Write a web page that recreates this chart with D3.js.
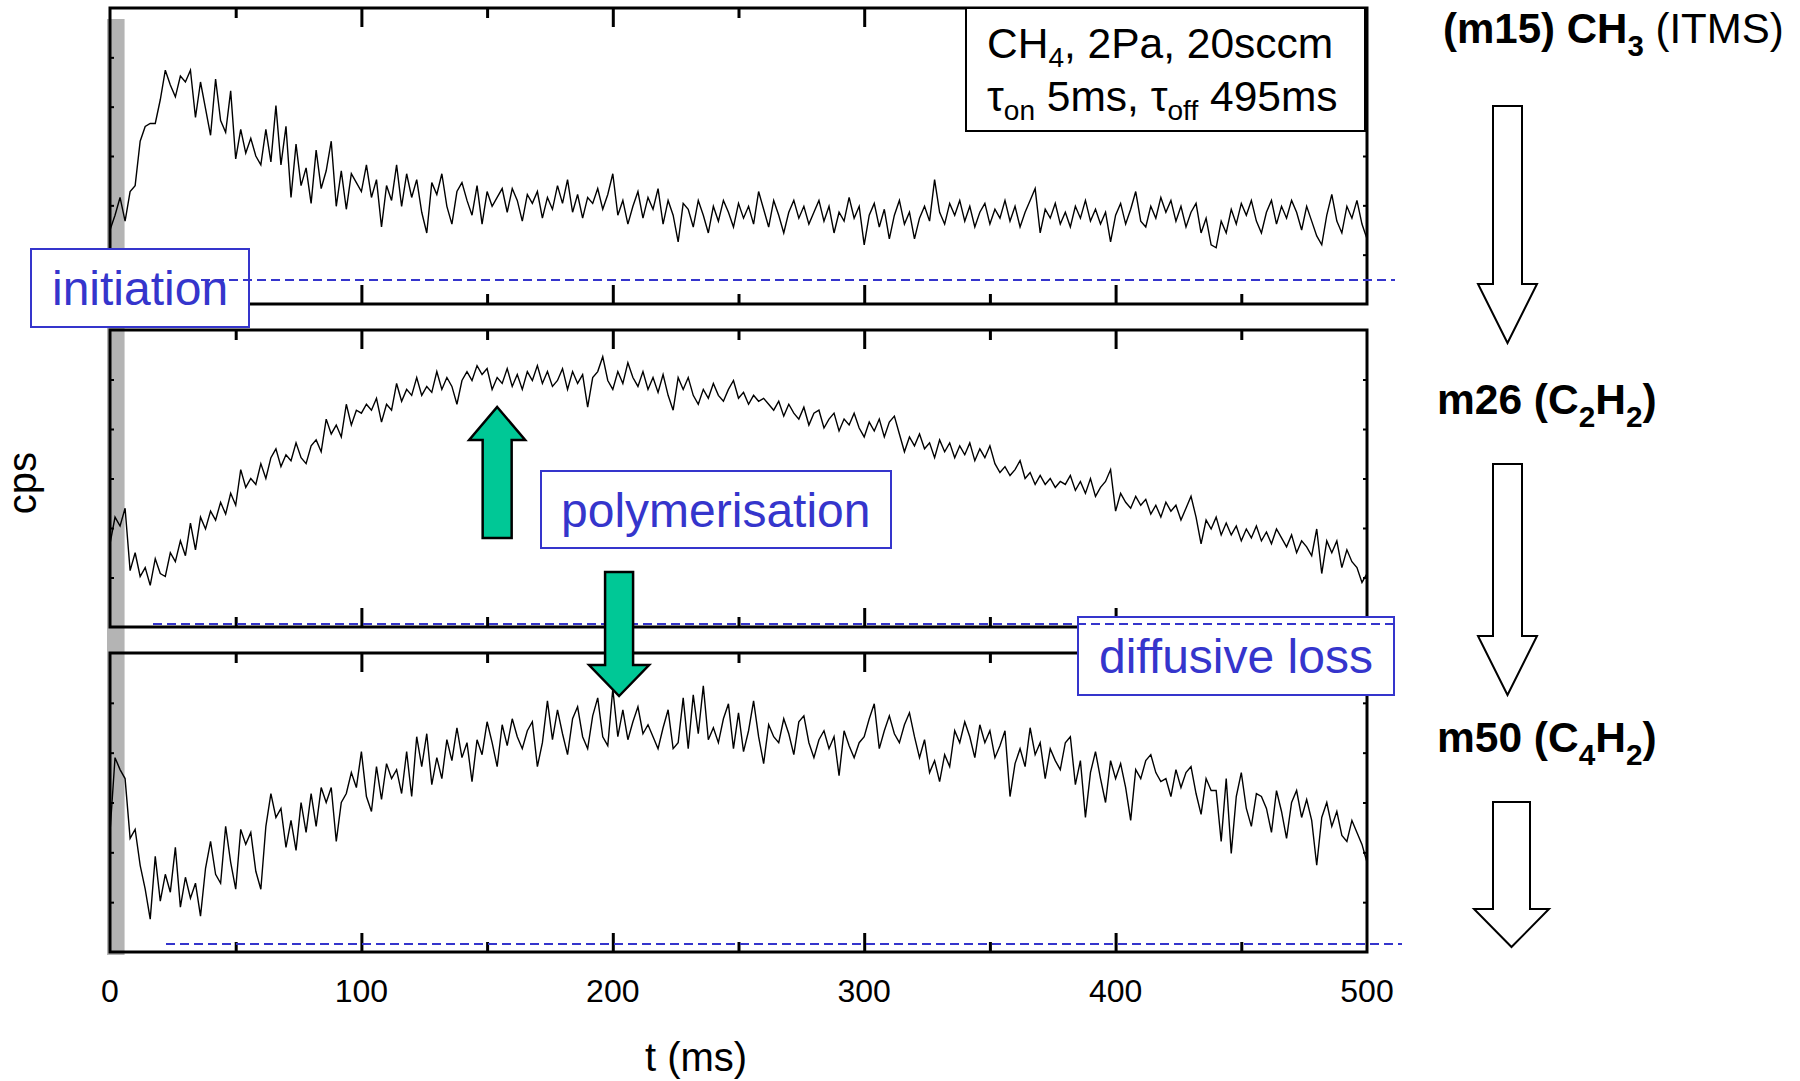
<!DOCTYPE html>
<html>
<head>
<meta charset="utf-8">
<script src="https://cdn.jsdelivr.net/npm/d3@7"></script>
<style>
  body { margin: 0; background: #fff; }
  svg { display: block; }
  text { font-family: "Liberation Sans", Arial, Helvetica, sans-serif; }
</style>
</head>
<body>
<svg id="chart" width="1800" height="1081"></svg>
<script>
// ---------------- data ----------------
const tStepMs = 2;                       // sampling interval of the traces (ms)
const xTickValues = [0, 100, 200, 300, 400, 500];
const xMinorTicks = [50, 150, 250, 350, 450];
const xMajorTicks = [100, 200, 300, 400];
const plasmaOnMs = [0, 5];               // tau_on

// m15 (CH3, ITMS) signal, relative units (0 = panel bottom, 100 = panel top)
const seriesM15 = [
  25,30,36,28,38,40,55,60,61,61,
  69,79,74,70,77,75,79,63,75,66,
  57,76,62,58,72,49,59,51,56,50,
  47,59,48,67,47,60,36,54,40,46,
  34,52,39,45,55,33,45,32,44,41,
  38,47,36,42,26,40,35,47,33,44,
  36,42,31,24,41,37,44,33,27,38,
  41,35,30,40,27,38,33,36,39,31,
  39,35,28,37,34,38,29,36,32,40,
  34,42,31,37,29,36,34,39,32,37,
  44,30,35,27,33,38,29,36,32,39,
  27,35,30,21,34,32,26,35,30,24,
  33,28,35,31,26,34,29,33,27,38,
  32,26,35,30,24,31,35,29,33,27,
  31,35,28,33,24,31,28,36,29,33,
  20,30,34,26,32,22,30,35,27,31,
  22,29,33,28,42,31,27,34,30,35,
  28,33,26,31,34,27,32,29,35,28,
  33,26,31,35,39,24,32,29,34,27,
  31,26,33,29,35,28,32,27,31,21,
  30,34,27,32,38,28,26,33,29,36,
  31,35,28,33,26,31,34,24,29,20,
  19,28,24,32,27,34,30,35,28,24,
  31,35,27,33,29,35,31,25,33,28,
  23,20,30,37,28,24,33,29,35,27,
  22
];

// m26 (C2H2) signal
const seriesM26 = [
  28,37,34,40,19,25,17,20,14,23,
  18,17,25,22,29,24,35,26,37,33,
  39,36,42,38,45,41,53,47,50,48,
  55,50,57,60,54,58,56,62,57,55,
  61,63,59,70,65,68,64,75,68,73,
  72,75,73,77,69,75,73,82,76,80,
  78,84,78,81,79,86,80,84,81,75,
  83,86,83,88,85,87,80,84,82,87,
  81,85,80,86,83,88,82,86,81,83,
  87,80,86,82,85,74,84,86,91,83,
  80,86,82,89,84,81,86,80,84,79,
  85,78,73,84,80,84,78,75,80,77,
  82,78,76,80,83,77,79,75,78,76,
  77,75,73,76,71,75,72,70,74,68,
  72,73,67,70,72,66,70,68,72,67,
  64,69,66,70,64,69,71,65,59,64,
  61,65,60,62,57,63,59,62,57,61,
  58,62,56,60,57,61,55,52,54,51,
  53,56,50,52,48,51,48,50,47,49,
  48,51,46,49,45,50,44,47,49,53,
  39,45,42,40,44,41,43,38,41,37,
  42,39,41,36,40,44,37,28,36,33,
  37,31,35,31,34,29,33,30,34,29,
  32,28,33,30,27,31,25,29,27,24,
  33,18,29,25,29,20,26,22,20,15,
  18
];

// m50 (C4H2) signal
const seriesM50 = [
  40,65,61,58,38,41,29,21,11,32,
  17,26,20,35,15,25,18,23,12,28,
  37,26,23,42,30,21,41,36,40,27,
  21,42,53,45,48,35,44,34,50,40,
  53,42,55,50,55,37,50,53,60,55,
  67,52,47,62,51,63,58,61,53,67,
  52,72,62,73,56,65,58,71,64,75,
  65,70,57,71,66,77,70,62,76,69,
  78,72,68,74,77,62,70,84,71,81,
  73,66,78,82,72,68,79,85,72,69,
  88,72,81,71,77,82,73,76,72,68,
  75,81,68,70,85,68,86,73,89,71,
  75,70,78,83,68,80,67,74,84,72,
  63,76,72,70,78,73,66,77,79,70,
  65,71,74,68,72,59,74,69,65,70,
  72,78,83,68,74,79,73,70,76,80,
  72,65,71,60,64,57,66,62,74,70,
  77,72,65,76,70,74,65,69,74,52,
  63,68,62,75,66,70,58,68,64,61,
  70,72,56,64,45,60,67,58,50,64,
  58,63,55,44,61,58,64,66,60,57,
  58,52,61,55,60,62,53,46,58,54,
  54,37,58,33,52,60,48,42,53,52,
  48,40,54,47,38,50,54,45,51,44,
  29,45,50,42,47,39,37,44,40,36,
  30
];

const seriesNames = ["m15", "m26", "m50"];

// ---------------- layout ----------------
const svg = d3.select("#chart");
const x = d3.scaleLinear().domain([0, 500]).range([110, 1367]);
const panelBoxes = [
  { top: 8,   bottom: 304, data: seriesM15 },
  { top: 330, bottom: 627, data: seriesM26 },
  { top: 653, bottom: 952, data: seriesM50 }
];
const blue = "#3535cc";

// gray bar for the plasma-on period (continuous through all panels)
svg.append("rect")
  .attr("x", x(plasmaOnMs[0]) - 3)
  .attr("y", 19)
  .attr("width", x(plasmaOnMs[1]) - x(plasmaOnMs[0]) + 5)
  .attr("height", 955 - 19)
  .attr("fill", "#b4b4b4");

panelBoxes.forEach((p) => {
  const y = d3.scaleLinear().domain([0, 100]).range([p.bottom, p.top]);
  const g = svg.append("g");

  // trace
  const line = d3.line()
    .x((d, i) => x(i * tStepMs))
    .y(d => y(d));
  g.append("path")
    .datum(p.data)
    .attr("d", line)
    .attr("fill", "none")
    .attr("stroke", "#000")
    .attr("stroke-width", 1.4)
    .attr("stroke-linejoin", "miter");

  // x ticks: inward on top and bottom edges
  const addTicks = (vals, size) => {
    const top = d3.axisBottom(x).tickValues(vals).tickSize(size).tickFormat("");
    const bot = d3.axisTop(x).tickValues(vals).tickSize(size).tickFormat("");
    [[top, p.top], [bot, p.bottom]].forEach(([ax, yy]) => {
      const a = g.append("g").attr("transform", `translate(0,${yy})`).call(ax);
      a.select(".domain").remove();
      a.selectAll("line").attr("stroke", "#000").attr("stroke-width", 3);
    });
  };
  addTicks(xMajorTicks, 19);
  addTicks(xMinorTicks, 10);

  // small y ticks (inward) on left and right edges
  const yTickVals = d3.range(1, 6).map(k => k * 100 / 6);
  const left = d3.axisRight(y).tickValues(yTickVals).tickSize(4).tickFormat("");
  const right = d3.axisLeft(y).tickValues(yTickVals).tickSize(4).tickFormat("");
  [[left, x(0)], [right, x(500)]].forEach(([ax, xx]) => {
    const a = g.append("g").attr("transform", `translate(${xx},0)`).call(ax);
    a.select(".domain").remove();
    a.selectAll("line").attr("stroke", "#000").attr("stroke-width", 2);
  });

  // frame
  g.append("rect")
    .attr("x", x(0)).attr("y", p.top)
    .attr("width", x(500) - x(0)).attr("height", p.bottom - p.top)
    .attr("fill", "none").attr("stroke", "#000").attr("stroke-width", 3);
});

// x tick labels under bottom panel
svg.append("g").selectAll("text").data(xTickValues).join("text")
  .attr("x", d => x(d)).attr("y", 1002)
  .attr("text-anchor", "middle")
  .attr("font-size", 32)
  .attr("fill", "#000")
  .text(d => d);

svg.append("text")
  .attr("x", 696).attr("y", 1071)
  .attr("text-anchor", "middle")
  .attr("font-size", 40)
  .text("t (ms)");

svg.append("text")
  .attr("transform", "translate(36,483) rotate(-90)")
  .attr("text-anchor", "middle")
  .attr("font-size", 40)
  .text("cps");

// helper for rich text with subscripts
function richText(parent, xx, yy, size, parts, color, subScale, subShift) {
  const sc = subScale || 0.66;
  const sh = (subShift || 0.3) * size;
  const t = parent.append("text")
    .attr("x", xx).attr("y", yy)
    .attr("font-size", size)
    .attr("fill", color || "#000");
  let shifted = false;
  parts.forEach(pt => {
    const ts = t.append("tspan").text(pt.t);
    if (pt.w) ts.attr("font-weight", pt.w);
    if (pt.sub) {
      ts.attr("font-size", size * sc).attr("dy", shifted ? 0 : sh);
      shifted = true;
    } else {
      if (shifted) ts.attr("dy", -sh);
      shifted = false;
    }
  });
  return t;
}

// info box
svg.append("rect")
  .attr("x", 966).attr("y", 8).attr("width", 399).attr("height", 123)
  .attr("fill", "#fff").attr("stroke", "#000").attr("stroke-width", 2);
richText(svg, 987, 58, 42.5, [{ t: "CH" }, { t: "4", sub: true }, { t: ", 2Pa, 20sccm" }], "#000", 0.66, 0.2);
richText(svg, 987, 111, 42.5, [{ t: "\u03c4" }, { t: "on", sub: true }, { t: " 5ms, \u03c4" }, { t: "off", sub: true }, { t: " 495ms" }], "#000", 0.66, 0.22);

// process label boxes
const labelBoxes = [
  { text: "initiation",     x: 31,   y: 249, w: 218, h: 78, tx: 52,   ty: 305 },
  { text: "polymerisation", x: 541,  y: 471, w: 350, h: 77, tx: 561,  ty: 527 },
  { text: "diffusive loss", x: 1078, y: 617, w: 316, h: 78, tx: 1099, ty: 673 }
];
labelBoxes.forEach(b => {
  svg.append("rect")
    .attr("x", b.x).attr("y", b.y).attr("width", b.w).attr("height", b.h)
    .attr("fill", "#fff").attr("stroke", blue).attr("stroke-width", 2);
  svg.append("text")
    .attr("x", b.tx).attr("y", b.ty)
    .attr("font-size", 48).attr("fill", blue)
    .text(b.text);
});

// dashed baselines
const baselines = [
  { y: 280, x1: 201, x2: 1395 },
  { y: 624, x1: 153, x2: 1395 },
  { y: 944, x1: 166, x2: 1402 }
];
baselines.forEach(b => {
  svg.append("line")
    .attr("x1", b.x1).attr("x2", b.x2).attr("y1", b.y).attr("y2", b.y)
    .attr("stroke", blue).attr("stroke-width", 2)
    .attr("stroke-dasharray", "9,5");
});

// block arrows
function blockArrow(cx, yTip, yBase, yEnd, shaftW, headW, fill, sw) {
  const pts = [
    [cx, yTip],
    [cx + headW / 2, yBase],
    [cx + shaftW / 2, yBase],
    [cx + shaftW / 2, yEnd],
    [cx - shaftW / 2, yEnd],
    [cx - shaftW / 2, yBase],
    [cx - headW / 2, yBase]
  ];
  svg.append("polygon")
    .attr("points", pts.map(p => p.join(",")).join(" "))
    .attr("fill", fill).attr("stroke", "#000").attr("stroke-width", sw)
    .attr("stroke-linejoin", "miter");
}
const green = "#00c896";
blockArrow(x(154), 407, 440, 538, 29, 56, green, 2.5);
blockArrow(x(202.5), 696, 665, 572, 28, 60, green, 2.5);

// right-hand species labels
richText(svg, 1443, 43, 42, [{ t: "(m15) CH", w: "bold" }, { t: "3", sub: true, w: "bold" }, { t: " (ITMS)", w: "normal" }], "#000", 0.7);
richText(svg, 1437, 414, 42.5, [{ t: "m26 (C", w: "bold" }, { t: "2", sub: true, w: "bold" }, { t: "H", w: "bold" }, { t: "2", sub: true, w: "bold" }, { t: ")", w: "bold" }], "#000", 0.7);
richText(svg, 1437, 752, 42.5, [{ t: "m50 (C", w: "bold" }, { t: "4", sub: true, w: "bold" }, { t: "H", w: "bold" }, { t: "2", sub: true, w: "bold" }, { t: ")", w: "bold" }], "#000", 0.7);

// hollow arrows on the right
blockArrow(1507.5, 343, 284, 106, 29, 59, "#fff", 2);
blockArrow(1507.5, 695, 636, 464, 29, 59, "#fff", 2);
blockArrow(1511.5, 947, 909, 802, 37, 75, "#fff", 2);
</script>
</body>
</html>
